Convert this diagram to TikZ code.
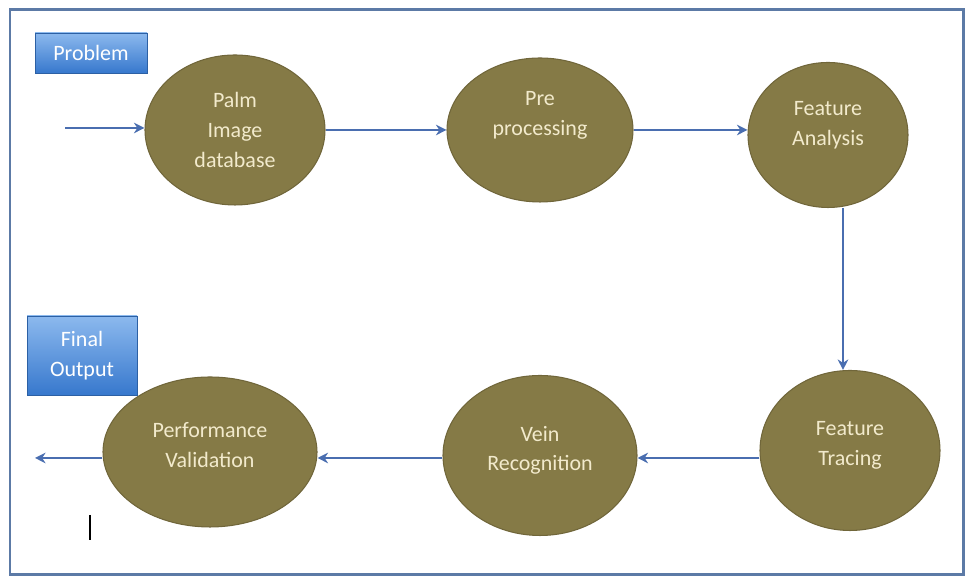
\documentclass[tikz,border=0pt]{standalone}
\usepackage{fontspec}
\setmainfont{Carlito}
\usetikzlibrary{shapes.geometric,arrows.meta}
\definecolor{frameblue}{RGB}{92,122,166}
\definecolor{flowblue}{RGB}{74,110,176}
\definecolor{olivefill}{RGB}{133,122,70}
\definecolor{olivedark}{RGB}{112,102,58}
\definecolor{creamtext}{RGB}{242,234,204}
\definecolor{boxtop}{RGB}{140,185,238}
\definecolor{boxbot}{RGB}{55,120,205}
\begin{document}
\begin{tikzpicture}[
  stage/.style={ellipse,fill=olivefill,draw=olivedark,line width=0.6pt,text=creamtext,align=center,font=\fontsize{12.5}{17}\selectfont,inner sep=0pt},
  tag/.style={rectangle,top color=boxtop,bottom color=boxbot,draw=boxbot!80!black,line width=0.4pt,text=white,align=center,font=\fontsize{12.5}{17}\selectfont,inner sep=0pt},
  flow/.style={draw=flowblue,line width=1.6pt,-{Stealth[length=6pt,width=6pt]}}
]
\useasboundingbox (0,0) rectangle (19.36,11.56);
\draw[frameblue,line width=1.7pt] (0.2,0.06) rectangle (19.26,11.36);
\node[tag,minimum width=2.24cm,minimum height=0.8cm] (problem) at (1.82,10.5) {Problem};
\node[tag,minimum width=2.2cm,minimum height=1.58cm] (final) at (1.64,4.45) {Final\\Output};
\node[stage,minimum width=3.6cm,minimum height=3.0cm] (palm) at (4.7,8.96) {Palm\\Image\\database};
\node[stage,minimum width=3.72cm,minimum height=2.88cm] (pre) at (10.8,8.96) {Pre\\processing\\[2pt]};
\node[stage,minimum width=3.2cm,minimum height=2.9cm] (fa) at (16.56,8.86) {Feature\\Analysis\\[-4pt]};
\node[stage,minimum width=3.6cm,minimum height=3.2cm] (ft) at (17.0,2.55) {Feature\\Tracing\\[-9pt]};
\node[stage,minimum width=3.88cm,minimum height=3.2cm] (vein) at (10.8,2.45) {Vein\\Recognition\\[-9pt]};
\node[stage,minimum width=4.28cm,minimum height=3.0cm] (perf) at (4.2,2.52) {Performance\\Validation\\[-9pt]};
\coordinate (in) at (1.3,9.0);
\coordinate (out) at (0.7,2.4);
\draw[flow] (in) -- (in -| palm.west);
\draw[flow] (palm.east |- pre.east) -- (pre.east -| pre.west);
\draw[flow] (pre.east) -- (pre.east -| fa.west);
\draw[flow] ([xshift=0.3cm]fa.south) -- ([xshift=0.3cm]fa.south |- ft.north);
\draw[flow] (ft.west |- 0,2.4) -- (vein.east |- 0,2.4);
\draw[flow] (vein.west |- 0,2.4) -- (perf.east |- 0,2.4);
\draw[flow] (perf.west |- 0,2.4) -- (out);
\draw[black,line width=0.6pt] (1.8,1.26) -- (1.8,0.76);
\end{tikzpicture}
\end{document}
